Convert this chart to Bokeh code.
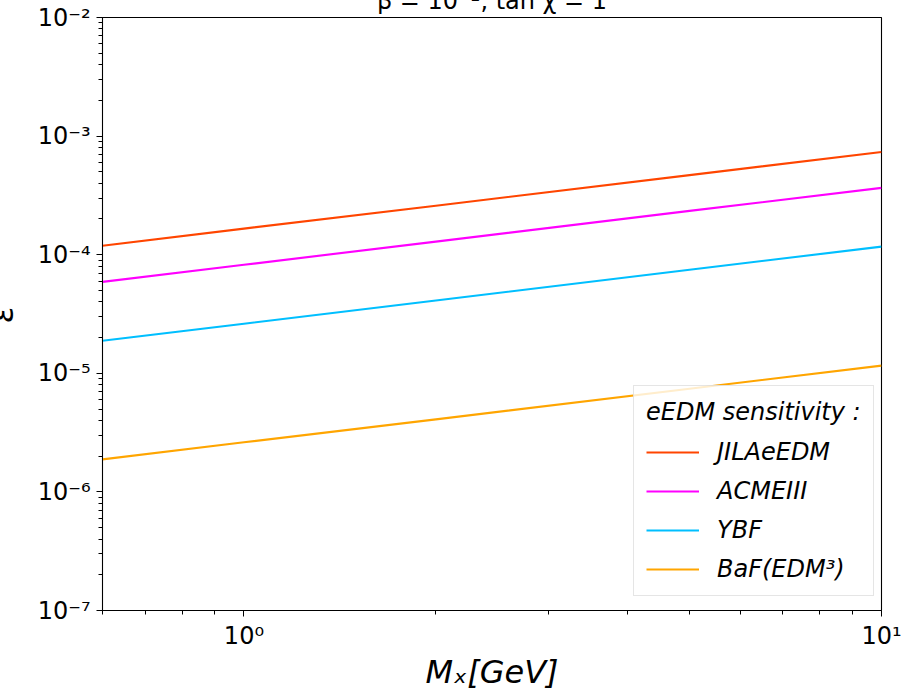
import math
from bokeh.plotting import figure
from bokeh.models import (FixedTicker, CustomJSTickFormatter, Legend,
                          LegendItem, Range1d)
from bokeh.embed import file_html
from bokeh.resources import INLINE

# ---- data ----
mass = [0.6, 1.0, 2.0, 5.0, 10.0]                      # M_X [GeV]
jila = [1.19e-4, 1.66e-4, 2.59e-4, 4.69e-4, 7.35e-4]
acme = [5.90e-5, 8.22e-5, 1.29e-4, 2.34e-4, 3.66e-4]
ybf = [1.88e-5, 2.62e-5, 4.11e-5, 7.46e-5, 1.17e-4]
baf = [1.88e-6, 2.62e-6, 4.09e-6, 7.41e-6, 1.16e-5]
series = [jila, acme, ybf, baf]
series_names = ["JILAeEDM", "ACMEIII", "YBF", "BaF(EDM³)"]
colors = ["#ff4500", "#ff00ff", "#00bfff", "#ffa500"]

x_major = [1.0, 10.0]
x_minor = [0.6, 0.7, 0.8, 0.9, 2, 3, 4, 5, 6, 7, 8, 9]
y_major = [1e-7, 1e-6, 1e-5, 1e-4, 1e-3, 1e-2]
y_minor = [m * d for d in [1e-7, 1e-6, 1e-5, 1e-4, 1e-3] for m in range(2, 10)]

title_text = "β = 10⁻², tan χ = 1"
legend_title = "eEDM sensitivity :"
x_label = "Mₓ[GeV]"
y_label = "ε"

FONT = "DejaVu Sans"

# the reference is cropped at its top and left edge: the figure is made a bit
# larger and shifted so that the window shows the same crop
HIDE_TOP = 20
HIDE_LEFT = 30

p = figure(width=904 + HIDE_LEFT, height=693 + HIDE_TOP,
           x_axis_type="log", y_axis_type="log",
           x_range=Range1d(0.6, 10), y_range=Range1d(1e-7, 1e-2),
           output_backend="svg", toolbar_location=None,
           min_border_left=102 + HIDE_LEFT, min_border_right=23,
           min_border_top=17 + HIDE_TOP, min_border_bottom=82)
p.margin = (-HIDE_TOP, 0, 0, -HIDE_LEFT)
p.styles = {"margin-top": f"-{HIDE_TOP}px", "margin-left": f"-{HIDE_LEFT}px"}

p.grid.visible = False
p.outline_line_color = "black"
p.outline_line_width = 1.1
p.outline_line_alpha = 1.0
p.background_fill_color = "white"
p.border_fill_color = "white"

p.title.text = title_text
p.title.align = "center"
p.title.text_font = FONT
p.title.text_font_size = "24px"
p.title.text_font_style = "normal"
p.title.text_color = "black"
p.title.standoff = 5

fmt_code = """
const e = Math.round(Math.log10(tick));
const m = {"-":"⁻","0":"⁰","1":"¹","2":"²","3":"³","4":"⁴","5":"⁵","6":"⁶","7":"⁷","8":"⁸","9":"⁹"};
return "10" + String(e).split("").map(c => m[c]).join("");
"""

for ax, maj, mnr in [(p.xaxis, x_major, x_minor), (p.yaxis, y_major, y_minor)]:
    ax.ticker = FixedTicker(ticks=maj, minor_ticks=mnr)
    ax.formatter = CustomJSTickFormatter(code=fmt_code)
    ax.major_label_text_font = FONT
    ax.major_label_text_font_size = "24px"
    ax.major_label_text_color = "black"
    ax.axis_line_color = "black"
    ax.major_tick_line_color = "black"
    ax.minor_tick_line_color = "black"
    ax.major_tick_in = 0
    ax.major_tick_out = 6
    ax.minor_tick_in = 0
    ax.minor_tick_out = 4
    ax.major_label_standoff = 6
    ax.axis_label_text_font = FONT
    ax.axis_label_text_font_style = "italic"
    ax.axis_label_text_font_size = "32px"
    ax.axis_label_text_color = "black"

p.xaxis.major_label_standoff = 5
p.xaxis.axis_label = x_label
p.xaxis.axis_label_standoff = 0
p.yaxis.axis_label = y_label
p.yaxis.axis_label_standoff = 14

renderers = []
for vals, c in zip(series, colors):
    r = p.line(mass, vals, line_color=c, line_width=2.1)
    renderers.append(r)

legend = Legend(items=[LegendItem(label=n, renderers=[r])
                       for n, r in zip(series_names, renderers)],
                location=(531, 14))
legend.title = legend_title
legend.title_text_font = FONT
legend.title_text_font_style = "italic"
legend.title_text_font_size = "24px"
legend.title_text_color = "black"
legend.title_standoff = 12
legend.label_text_font = FONT
legend.label_text_font_style = "italic"
legend.label_text_font_size = "24px"
legend.label_text_color = "black"
legend.glyph_width = 53
legend.glyph_height = 28
legend.label_standoff = 18
legend.padding = 12
legend.spacing = 11
legend.border_line_color = "#cccccc"
legend.border_line_width = 1
legend.background_fill_alpha = 0.8
p.add_layout(legend)

open("out.html", "w").write(file_html(p, INLINE))
